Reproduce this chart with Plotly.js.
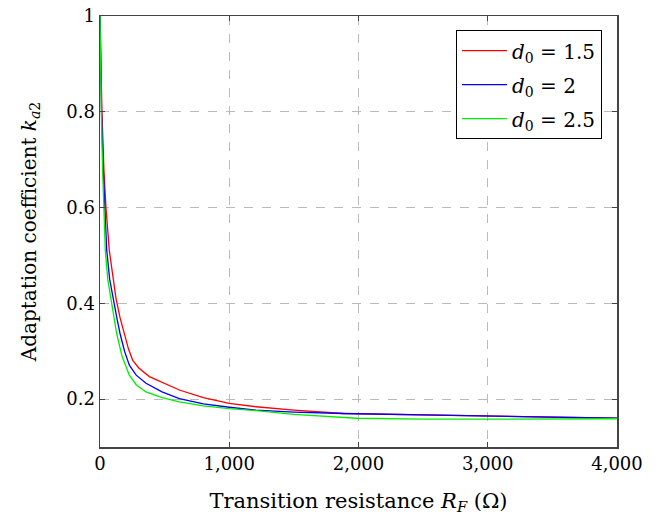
<!DOCTYPE html>
<html><head><meta charset="utf-8">
<script src="https://cdn.plot.ly/plotly-3.0.1.min.js"></script>
<style>body{margin:0;background:#fff}#chart{width:664px;height:521px}</style>
</head><body><div id="chart"></div>
<script>
const redX = [0,5,15,30,46,72,100,124,155,188,220,253,300,382,500,614,800,1000,1207,1500,1882,2500,3000,3500,4000];
const redY = [1,0.92,0.8,0.68,0.6,0.51,0.45,0.41,0.37,0.337,0.305,0.281,0.265,0.247,0.232,0.219,0.203,0.191,0.184,0.177,0.170,0.167,0.165,0.162,0.160];
const blueX = [0,4,12,25,39,52,75,103,130,155,190,227,280,356,480,614,800,1000,1207,1500,1882,2500,3000,3500,4000];
const blueY = [1,0.9,0.8,0.68,0.6,0.511,0.45,0.407,0.37,0.337,0.3,0.271,0.25,0.233,0.215,0.201,0.19,0.183,0.177,0.173,0.170,0.167,0.165,0.162,0.160];
const greenX = [0,3,10,20,31,41,60,85,105,129,170,227,280,356,480,614,800,1000,1207,1500,1986,2500,3000,3500,4000];
const greenY = [1,0.9,0.8,0.68,0.6,0.511,0.45,0.407,0.37,0.337,0.29,0.25,0.23,0.215,0.203,0.194,0.186,0.180,0.176,0.168,0.160,0.158,0.158,0.158,0.159];
const seriesNames = ['<i>d</i><sub>0</sub> = 1.5','<i>d</i><sub>0</sub> = 2','<i>d</i><sub>0</sub> = 2.5'];
const yTickVals = [0.2,0.4,0.6,0.8,1];
const yTickText = ['0.2','0.4','0.6','0.8','1'];
const xTickVals = [0,1000,2000,3000,4000];
const xTickText = ['0','1,000','2,000','3,000','4,000'];

const colors = ['#ff0000','#0000ff','#00ee00'];
const xs = [redX, blueX, greenX], ys = [redY, blueY, greenY];
const traces = xs.map((x,i)=>({x:x, y:ys[i], type:'scatter', mode:'lines', name:seriesNames[i],
  legendgroup:'g'+i, line:{color:colors[i], width:1.3}}));
const FAM = 'DejaVu Serif, serif';
const tickFont = {family:FAM, size:18, color:'#000'};
const layout = {
  width:664, height:521,
  margin:{l:100, r:47, t:16, b:74},
  paper_bgcolor:'#fff', plot_bgcolor:'#fff',
  font: {family:FAM, size:18, color:'#000'},
  showlegend:true,
  legend:{x:0.971, xanchor:'right', y:0.967, yanchor:'top', bordercolor:'#000', borderwidth:1,
    bgcolor:'#fff', font:{family:FAM, size:20, color:'#000'}, tracegroupgap:5, itemwidth:45},
  xaxis:{range:[0,4000], tickvals:xTickVals, ticktext:xTickText, showline:true, mirror:'ticks',
    linecolor:'#444', linewidth:1.5, ticks:'inside', ticklen:5, tickcolor:'#444',
    tickfont:tickFont,
    showgrid:true, gridcolor:'#bbb', griddash:'dash', gridwidth:1, zeroline:false,
    title:{text:'Transition resistance <i>R</i><sub><i>F</i></sub> (Ω)', font:{family:FAM, size:21, color:'#000'}, standoff:20}},
  yaxis:{range:[0.1,1], tickvals:yTickVals, ticktext:yTickText, showline:true, mirror:'ticks',
    linecolor:'#444', linewidth:1.5, ticks:'inside', ticklen:5, tickcolor:'#444',
    tickfont:tickFont,
    showgrid:true, gridcolor:'#bbb', griddash:'dash', gridwidth:1, zeroline:false,
    title:{text:'Adaptation coefficient <i>k</i><sub><i>a</i>2</sub>', font:{family:FAM, size:20, color:'#000'}, standoff:24}}
};
Plotly.newPlot('chart', traces, layout, {displayModeBar:false, staticPlot:true});
</script></body></html>
